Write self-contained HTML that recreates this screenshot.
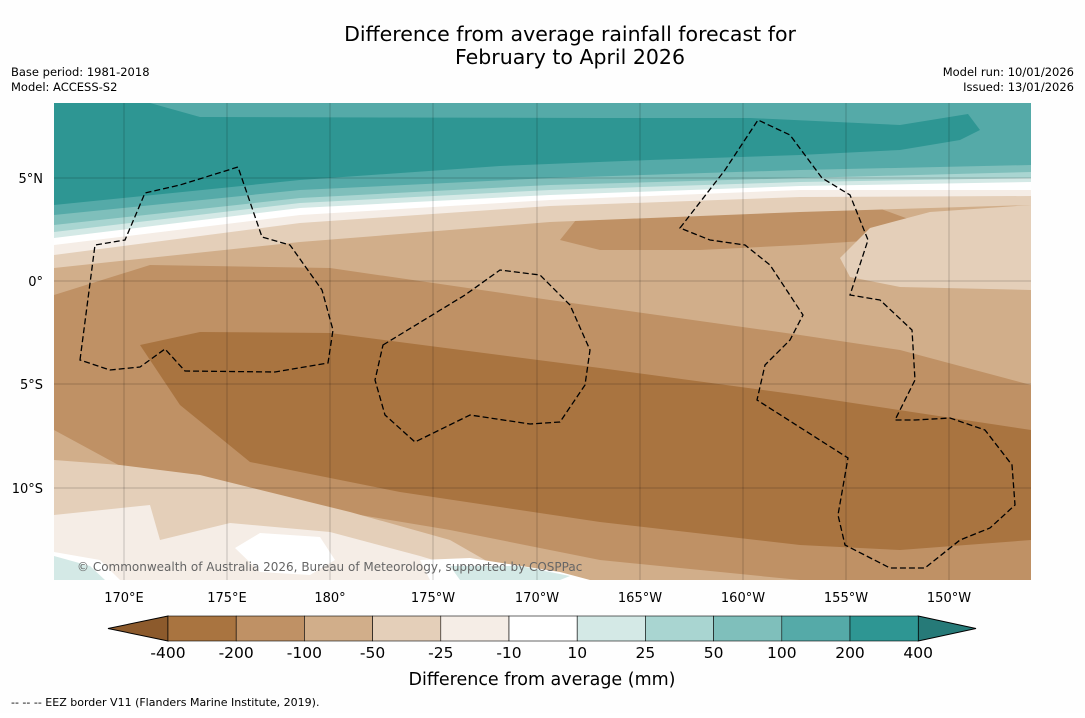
<!DOCTYPE html>
<html><head><meta charset="utf-8"><style>
body{margin:0;background:#fff;width:1085px;height:713px;overflow:hidden;font-family:"Liberation Sans","DejaVu Sans",sans-serif;}
</style></head><body>
<svg width="1085" height="713" xmlns="http://www.w3.org/2000/svg" font-family="'DejaVu Sans','Liberation Sans',sans-serif">
<rect width="1085" height="713" fill="#fefefe"/>
<text x="570" y="41" font-size="20.5" text-anchor="middle" fill="#000">Difference from average rainfall forecast for</text>
<text x="570" y="64" font-size="20.5" text-anchor="middle" fill="#000">February to April 2026</text>
<text x="11" y="76" font-size="11.5">Base period: 1981-2018</text>
<text x="11" y="91" font-size="11.5">Model: ACCESS-S2</text>
<text x="1074" y="76" font-size="11.5" text-anchor="end">Model run: 10/01/2026</text>
<text x="1074" y="91" font-size="11.5" text-anchor="end">Issued: 13/01/2026</text>
<defs><clipPath id="mc"><rect x="54" y="103" width="977" height="477"/></clipPath></defs>
<g clip-path="url(#mc)">
<rect x="54" y="103" width="977" height="477" fill="#d1ae8a"/>
<path fill="#bf9165" d="M54,295 L150,265 L330,268 L550,300 L800,335 L900,350 L1031,385 L1031,580 L800,580 L600,560 L450,530 L300,505 L150,482 L54,430Z"/>
<path fill="#a97440" d="M140,345 L200,332 L330,333 L600,368 L800,395 L1031,430 L1031,540 L900,550 L800,545 L600,522 L400,492 L250,462 L180,405Z"/>
<path fill="#bf9165" d="M560,240 L580,215 L650,200 L740,203 L870,205 L925,225 L880,240 L800,245 L700,250 L600,250Z"/>
<path fill="#e4cfb9" d="M54,460 L120,465 L200,475 L350,512 L450,540 L520,580 L54,580Z"/>
<path fill="#f5ede6" d="M54,515 L150,505 L160,540 L230,523 L330,532 L420,556 L500,580 L54,580Z"/>
<path fill="#ffffff" d="M54,552 L100,560 L120,580 L54,580Z M235,548 L260,533 L320,537 L335,560 L310,575 L260,572Z M420,560 L470,558 L560,572 L590,580 L430,580Z"/>
<path fill="#d4e9e6" d="M54,556 L90,566 L105,580 L54,580Z M450,566 L520,566 L570,576 L560,580 L460,580Z"/>
<path fill="#e4cfb9" d="M840,258 L870,228 L930,212 L1031,205 L1031,290 L900,287 L850,277Z"/>
<path fill="#e4cfb9" d="M54,103 L1031,103 L1031,205 L800,212 L550,222 L300,242 L54,268Z"/>
<path fill="#f5ede6" d="M54,103 L1031,103 L1031,196 L800,197 L550,206 L300,223 L54,255Z"/>
<path fill="#ffffff" d="M54,103 L1031,103 L1031,190 L800,190 L550,200 L300,215 L54,245Z"/>
<path fill="#d4e9e6" d="M54,103 L1031,103 L1031,182 L800,186 L550,195 L300,208 L54,238Z"/>
<path fill="#a9d5d1" d="M54,103 L1031,103 L1031,178 L800,182 L550,190 L300,203 L54,232Z"/>
<path fill="#7fbfbb" d="M54,103 L1031,103 L1031,172 L800,178 L550,185 L300,198 L54,225Z"/>
<path fill="#55aaa8" d="M54,103 L1031,103 L1031,165 L800,170 L550,178 L300,190 L54,215Z"/>
<path fill="#2e9693" d="M54,103 L150,103 L200,117 L600,118 L750,118 L900,125 L968,114 L980,130 L960,140 L900,150 L800,155 L650,160 L500,166 L300,180 L54,205Z"/>
<g stroke="#000" stroke-opacity="0.4" stroke-width="0.5">
<line x1="124" y1="103" x2="124" y2="580"/><line x1="227" y1="103" x2="227" y2="580"/><line x1="330" y1="103" x2="330" y2="580"/><line x1="433" y1="103" x2="433" y2="580"/><line x1="537" y1="103" x2="537" y2="580"/><line x1="640" y1="103" x2="640" y2="580"/><line x1="743" y1="103" x2="743" y2="580"/><line x1="846" y1="103" x2="846" y2="580"/><line x1="949" y1="103" x2="949" y2="580"/>
<line x1="54" y1="178" x2="1031" y2="178"/><line x1="54" y1="281" x2="1031" y2="281"/><line x1="54" y1="384" x2="1031" y2="384"/><line x1="54" y1="488" x2="1031" y2="488"/>
</g>
<g fill="none" stroke="#000" stroke-width="1.3" stroke-dasharray="6,3">
<path d="M80,360 L95,245 L125,240 L145,193 L180,185 L238,167 L262,237 L290,245 L322,290 L333,330 L328,363 L275,372 L185,371 L165,349 L140,367 L110,370Z"/>
<path d="M383,345 L465,295 L500,270 L540,275 L570,305 L590,350 L585,385 L560,422 L530,424 L470,415 L415,442 L385,415 L375,380Z"/>
<path d="M680,228 L725,170 L758,120 L790,135 L822,178 L850,195 L868,240 L850,295 L880,300 L912,330 L915,380 L895,420 L915,420 L950,418 L985,430 L1012,465 L1015,505 L990,528 L960,540 L925,568 L890,568 L845,545 L838,515 L848,458 L757,400 L765,365 L790,340 L803,315 L770,265 L745,245 L710,240Z"/>
</g>
<text x="77" y="571" font-size="12" fill="#666">© Commonwealth of Australia 2026, Bureau of Meteorology, supported by COSPPac</text>
</g>
<g font-size="13" fill="#000">
<text x="43" y="183" text-anchor="end">5°N</text><text x="43" y="286" text-anchor="end">0°</text><text x="43" y="389" text-anchor="end">5°S</text><text x="43" y="493" text-anchor="end">10°S</text>
<g text-anchor="middle"><text x="124" y="602">170°E</text><text x="227" y="602">175°E</text><text x="330" y="602">180°</text><text x="433" y="602">175°W</text><text x="537" y="602">170°W</text><text x="640" y="602">165°W</text><text x="743" y="602">160°W</text><text x="846" y="602">155°W</text><text x="949" y="602">150°W</text></g>
</g>
<g id="cbar"></g>
<text x="542" y="685" font-size="17.5" text-anchor="middle">Difference from average (mm)</text>
<text x="11" y="706" font-size="11">--  --  -- EEZ border V11 (Flanders Marine Institute, 2019).</text>
</svg>
<script>
const levels=["-400","-200","-100","-50","-25","-10","10","25","50","100","200","400"];
const colors=["#a97440","#bf9165","#d1ae8a","#e4cfb9","#f5ede6","#ffffff","#d4e9e6","#a9d5d1","#7fbfbb","#55aaa8","#2e9693"];
const ns="http://www.w3.org/2000/svg";
const g=document.getElementById('cbar');
const x0=168,w=68.2,y0=616,h=25;
function mk(t,a){const e=document.createElementNS(ns,t);for(const k in a)e.setAttribute(k,a[k]);g.appendChild(e);return e;}
const lt=mk('polygon',{points:`108,${y0+h/2} ${x0},${y0} ${x0},${y0+h}`,fill:'#8c5a2c',stroke:'#000','stroke-width':1});


const xe=x0+w*colors.length;
const rt=mk('polygon',{points:`${xe},${y0} 976,${y0+h/2} ${xe},${y0+h}`,fill:'#267a78',stroke:'#000','stroke-width':1});


colors.forEach((c,i)=>{
 const r=mk('rect',{x:x0+i*w,y:y0,width:w,height:h,fill:c,stroke:'#000','stroke-width':0.6});
 
 
});
levels.forEach((l,i)=>{
 const t=mk('text',{x:x0+i*w,y:658,'font-size':15.5,'text-anchor':'middle'});
 t.textContent=l;
 
 
});
</script>
</body></html>
